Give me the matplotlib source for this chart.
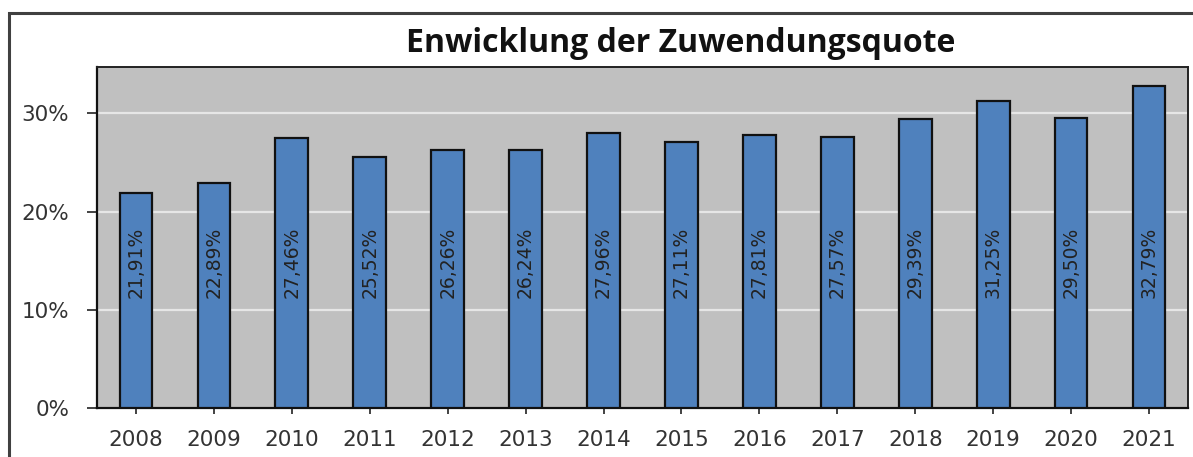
import matplotlib
matplotlib.use("Agg")
import matplotlib.pyplot as plt
from matplotlib.patches import Rectangle
import numpy as np

years = ["2008", "2009", "2010", "2011", "2012", "2013", "2014",
         "2015", "2016", "2017", "2018", "2019", "2020", "2021"]
quote = [21.91, 22.89, 27.46, 25.52, 26.26, 26.24, 27.96,
         27.11, 27.81, 27.57, 29.39, 31.25, 29.50, 32.79]
y_ticks = [0, 10, 20, 30]
title = "Enwicklung der Zuwendungsquote"

fig = plt.figure(figsize=(11.93, 4.57), dpi=100)
fig.patch.set_facecolor("white")

# outer frame (bottom is cut off in the original)
frame = Rectangle((9 / 1193, -0.1), 2.0, 1 - 13 / 457 + 0.1,
                  transform=fig.transFigure, fill=False,
                  edgecolor="#404040", linewidth=2.2, zorder=0)
fig.patches.append(frame)

ax = fig.add_axes([97 / 1193, 1 - 408 / 457, (1188 - 97) / 1193, (408 - 67) / 457])
ax.set_facecolor("#c0c0c0")

x = np.arange(len(years))
ax.bar(x, quote, width=0.42, color="#4f81bd", edgecolor="#111111",
       linewidth=1.6, zorder=3)

for xi, v in zip(x, quote):
    lbl = f"{v:.2f}".replace(".", ",") + "%"
    ax.text(xi, 14.8, lbl, rotation=90, ha="center", va="center",
            fontsize=13.5, color="#222222", zorder=4)

ax.set_xlim(-0.5, len(years) - 0.5)
ax.set_ylim(0, 34.72)
ax.set_xticks(x)
ax.set_xticklabels(years)
ax.set_yticks(y_ticks)
ax.set_yticklabels([f"{t}%" for t in y_ticks])
ax.yaxis.grid(True, color="#e6e6e6", linewidth=1.6, zorder=1)
ax.set_axisbelow(True)

ax.tick_params(axis="y", length=7, width=1.2, pad=13, labelsize=15.5,
               labelcolor="#333333", color="#222222")
ax.tick_params(axis="x", length=4, width=1.2, pad=12, labelsize=15.5,
               labelcolor="#333333", color="#222222")
for side in ["left", "bottom"]:
    ax.spines[side].set_color("#111111")
    ax.spines[side].set_linewidth(1.6)
for side in ["top", "right"]:
    ax.spines[side].set_color("#222222")
    ax.spines[side].set_linewidth(1.4)

fig.text(681 / 1193, 1 - 44 / 457, title, ha="center", va="center",
         fontsize=23, fontweight="bold", family="Open Sans", color="#111111")

fig.savefig("out.png", dpi=100)
